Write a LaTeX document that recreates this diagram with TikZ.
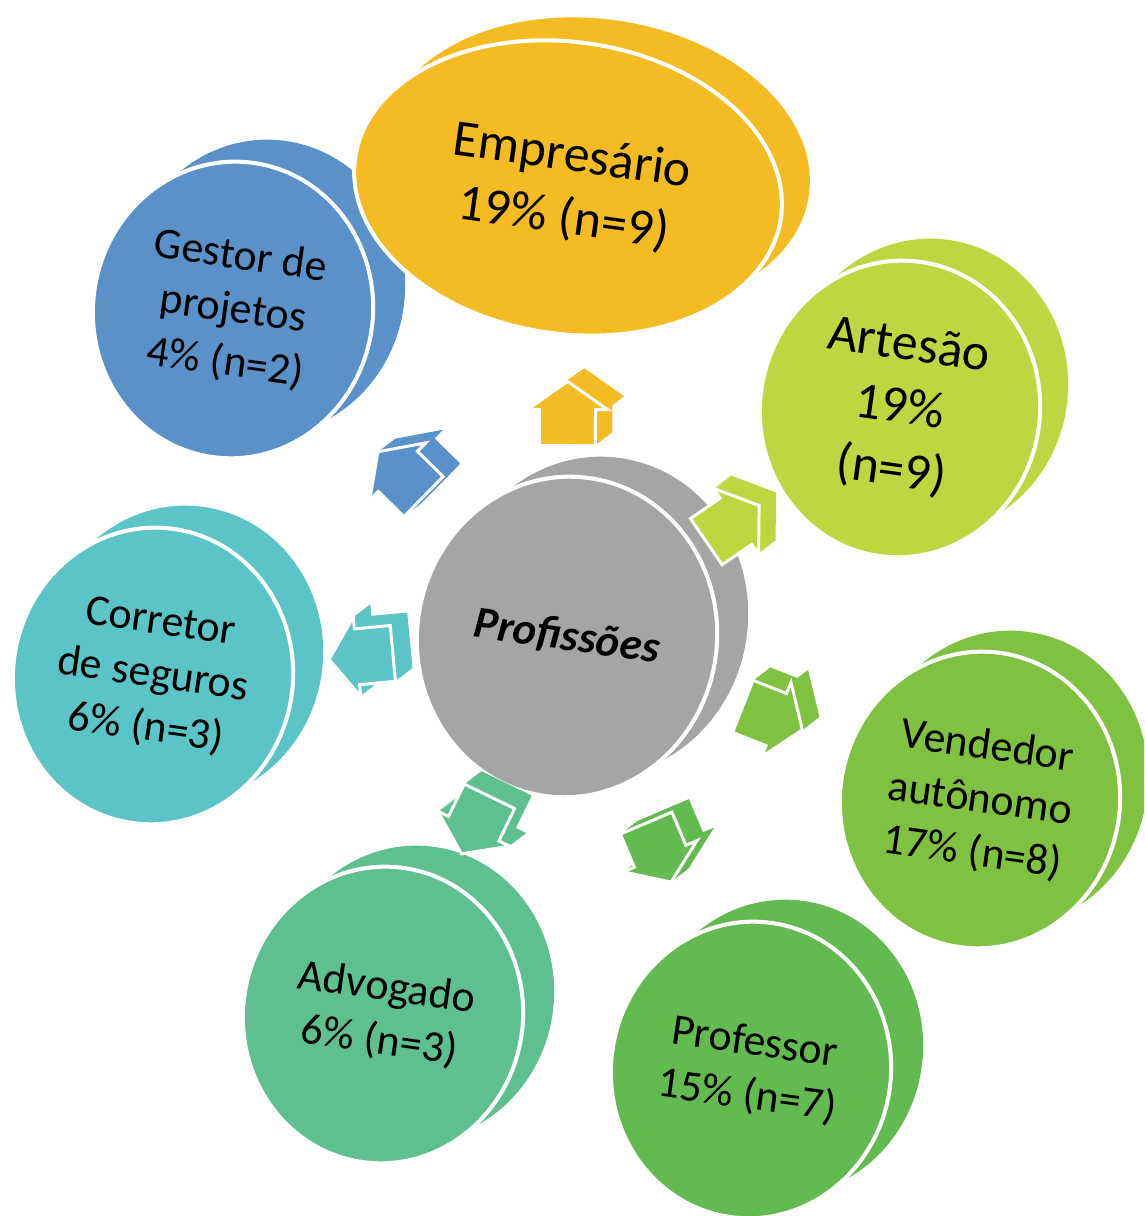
\documentclass[tikz,border=0pt]{standalone}
\usepackage{fontspec}
\setmainfont{Carlito}
\usetikzlibrary{calc}
\usetikzlibrary{shapes.geometric}
\usepackage{xcolor}

\definecolor{cEmp}{RGB}{245,187,34}
\definecolor{cGest}{RGB}{90,145,200}
\definecolor{cArt}{RGB}{190,215,64}
\definecolor{cVend}{RGB}{127,194,66}
\definecolor{cProf}{RGB}{99,186,80}
\definecolor{cAdv}{RGB}{94,192,143}
\definecolor{cCorr}{RGB}{91,196,198}
\definecolor{cHub}{RGB}{165,165,165}

\tikzset{
  disc/.style={ellipse, inner sep=0pt, rotate=-8, minimum width=5.6cm, minimum height=5.94cm,
    align=center, font=\fontsize{25}{30.5}\selectfont},
  discfront/.style={disc, fill=#1, draw=white, line width=2.3pt},
  discback/.style={disc, fill=#1},
}

\begin{document}
\begin{tikzpicture}[x=0.02cm, y=0.02cm]

\useasboundingbox (0,0) rectangle (1144,1216);
\clip (0,0) rectangle (1144,1216);

% back faces
\node[discback=cEmp, minimum width=8.6cm, minimum height=5.84cm] (empB) at (596,1051) {};
\node[discback=cGest] (gestB) at (265,928) {};
\node[discback=cArt] (artB) at (928,829) {};
\node[discback=cVend] (vendB) at (1008,437) {};
\node[discback=cProf] (profB) at (783,168) {};
\node[discback=cAdv] (advB) at (414,222) {};
\node[discback=cCorr] (corrB) at (183,562) {};
\node[discback=cHub, minimum width=6cm, minimum height=6.42cm] (hubB) at (598,599) {};

% front faces
\node[discfront=cEmp, minimum width=8.6cm, minimum height=5.84cm,
  font=\fontsize{29.5}{36}\selectfont] (emp) at (568,1028) {Empresário\\19\% (n=9)};
\node[discfront=cGest] (gest) at (233,906) {Gestor de\\projetos\\4\% (n=2)};
\node[discfront=cArt, font=\fontsize{29.5}{36}\selectfont] (art) at (900,807) {Artesão\\19\%\\(n=9)};
\node[discfront=cVend] (vend) at (980,416) {Vendedor\\autônomo\\17\% (n=8)};
\node[discfront=cProf] (prof) at (751,146) {Professor\\15\% (n=7)};
\node[discfront=cAdv] (adv) at (383,201) {Advogado\\6\% (n=3)};
\node[discfront=cCorr] (corr) at (153,540) {Corretor\\de seguros\\6\% (n=3)};
\node[discfront=cHub, minimum width=6cm, minimum height=6.42cm,
  font=\fontsize{25.5}{30}\bfseries\itshape\selectfont] (hub) at (567,579) {Profissões};

% block arrows
\foreach \d/\c in {emp/cEmp, gest/cGest, art/cArt, vend/cVend, prof/cProf, adv/cAdv, corr/cCorr}{
  \path let \p1=($(\d)-(hub)$) in \pgfextra{\pgfmathsetmacro\ang{atan2(\y1,\x1)}\xdef\arrang{\ang}};
  \foreach \k in {1,0.95,...,0.04}
    \fill[\c, shift={($(hub)!0.5!(\d)+(\k*17,\k*13)$)}, rotate=\arrang]
      (-33,-28) -- (3,-28) -- (3,-40) -- (31,0) -- (3,40) -- (3,28) -- (-33,28) -- cycle;
  \filldraw[fill=\c, draw=white, line width=1.7pt, shift={($(hub)!0.5!(\d)$)}, rotate=\arrang]
    (-33,-28) -- (3,-28) -- (3,-40) -- (31,0) -- (3,40) -- (3,28) -- (-33,28) -- cycle;
}

\end{tikzpicture}
\end{document}
